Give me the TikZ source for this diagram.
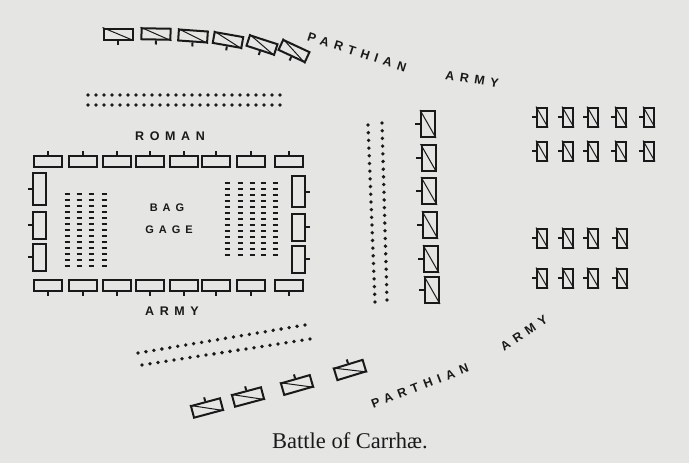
\documentclass[tikz,border=0pt]{standalone}
\usepackage{fontspec}
\usetikzlibrary{calc}
\newfontfamily\handfont[LetterSpace=45]{Liberation Sans}
\newfontfamily\capfont{Liberation Serif}
\definecolor{paper}{RGB}{229,229,227}
\definecolor{ink}{RGB}{25,25,25}

\begin{document}
\begin{tikzpicture}[x=1pt,y=-1pt,line width=2pt,color=ink]
\tikzstyle{unit}=[draw=ink,rectangle,inner sep=0pt,minimum width=29pt,minimum height=11pt]
\tikzstyle{upright}=[unit,minimum width=13pt,minimum height=27pt]
\tikzstyle{small}=[unit,minimum width=10pt,minimum height=19pt]
\tikzstyle{slash}=[line width=1pt]
\tikzstyle{label}=[text=ink,inner sep=0pt,font=\handfont\bfseries\fontsize{12.5}{13}\selectfont]

\fill[paper] (0,0) rectangle (689,463);
\useasboundingbox (0,0) rectangle (689,463);

% parthian horse, top
\foreach \x/\y/\a [count=\i] in {118/34/0,156/34/-1,193/36/-4,228/40/-10,262/45/-18,294/51/-25}
{
	\node[unit,rotate=\a] (ph\i) at (\x,\y) {};
	\draw[slash] (ph\i.north west) -- (ph\i.south east);
	\draw (ph\i.south) -- ($(ph\i.south)!-4pt!(ph\i.north)$);
}

% roman square
\foreach \x [count=\i] in {48,83,117,150,184,216,251,289}
{
	\node[unit,minimum width=28pt] (rt\i) at (\x,161) {};
	\draw (rt\i.north) -- ++(0,-4);
	\node[unit,minimum width=28pt] (rb\i) at (\x,285) {};
	\draw (rb\i.south) -- ++(0,4);
}
\foreach \y/\h [count=\i] in {189/32,225/27,257/27}
{
	\node[upright,minimum height=\h pt] (rl\i) at (39.5,\y) {};
	\draw (rl\i.west) -- ++(-4,0);
}
\foreach \y/\h [count=\i] in {191.5/31,227/27,259/27}
{
	\node[upright,minimum height=\h pt] (rr\i) at (298.5,\y) {};
	\draw (rr\i.east) -- ++(4,0);
}

% baggage
\foreach \x in {67,79,91,104}
	\foreach \k in {0,...,12}
		\draw[line width=1.8pt] (\x-2.5,194+6*\k) -- ++(5,0);
\foreach \x in {227,240,252,263,275}
	\foreach \k in {0,...,12}
		\draw[line width=1.8pt] (\x-2.5,183+6*\k) -- ++(5,0);

\node[label,font=\handfont\bfseries\fontsize{11}{11}\selectfont] (bag) at (167,208) {BAG};
\node[label,font=\handfont\bfseries\fontsize{11}{11}\selectfont] (gage) at (169,230) {GAGE};
\node[label] (roman) at (170,136) {ROMAN};
\node[label] (army) at (172,311) {ARMY};

% skirmishers
\coordinate (ta1) at (88,95);   \coordinate (ta2) at (280,95);
\coordinate (tb1) at (88,105);  \coordinate (tb2) at (280,105);
\coordinate (ca1) at (368,125); \coordinate (ca2) at (375,302);
\coordinate (cb1) at (382,123); \coordinate (cb2) at (387,300);
\coordinate (ba1) at (138,353); \coordinate (ba2) at (305,325);
\coordinate (bb1) at (142,365); \coordinate (bb2) at (310,339);
\foreach \t in {0,...,24}
{
	\fill ($(ta1)!\t/24!(ta2)$) circle (1.8);
	\fill ($(tb1)!\t/24!(tb2)$) circle (1.8);
}
\foreach \t in {0,...,23}
{
	\fill ($(ca1)!\t/23!(ca2)$) circle (1.9);
	\fill ($(cb1)!\t/23!(cb2)$) circle (1.9);
}
\foreach \t in {0,...,21}
{
	\fill ($(ba1)!\t/21!(ba2)$) circle (1.9);
	\fill ($(bb1)!\t/21!(bb2)$) circle (1.9);
}

% parthian horse, centre
\foreach \x/\y [count=\i] in {428/124,428.5/158,429/191,430/225,431/259,432/290}
{
	\node[upright,minimum width=14pt,minimum height=26pt] (mu\i) at (\x,\y) {};
	\draw[slash] (mu\i.north west) -- (mu\i.south east);
	\draw (mu\i.west) -- ++(-5,0);
}

% parthian horse, right
\foreach \r/\y in {1/117,2/151}
	\foreach \x [count=\c] in {542,568,593,621,649}
	{
		\node[small] (ra\r\c) at (\x,\y) {};
		\draw[slash] (ra\r\c.north west) -- (ra\r\c.south east);
		\draw (ra\r\c.west) -- ++(-4,0);
	}
\foreach \r/\y in {3/238,4/278}
	\foreach \x [count=\c] in {542,568,593,622}
	{
		\node[small] (ra\r\c) at (\x,\y) {};
		\draw[slash] (ra\r\c.north west) -- (ra\r\c.south east);
		\draw (ra\r\c.west) -- ++(-4,0);
	}

% parthian horse, bottom
\foreach \x/\y/\a [count=\i] in {207/408/15,248/397/15,297/385/16,350/370/17}
{
	\node[unit,minimum width=30pt,minimum height=12pt,rotate=\a] (pb\i) at (\x,\y) {};
	\draw[slash] (pb\i.north west) -- (pb\i.south east);
	\draw (pb\i.north) -- ($(pb\i.north)!-4pt!(pb\i.south)$);
}

\node[label,rotate=-18] (parth1) at (357,52) {PARTHIAN};
\node[label,rotate=-9] (army1) at (472,79) {ARMY};
\node[label,rotate=21] (parth2) at (420,386) {PARTHIAN};
\node[label,rotate=34] (army2) at (524,333) {ARMY};

\node[anchor=base,font=\capfont\fontsize{22.5}{23}\selectfont] (title) at (350,448) {Battle of Carrhæ.};
\end{tikzpicture}
\end{document}
